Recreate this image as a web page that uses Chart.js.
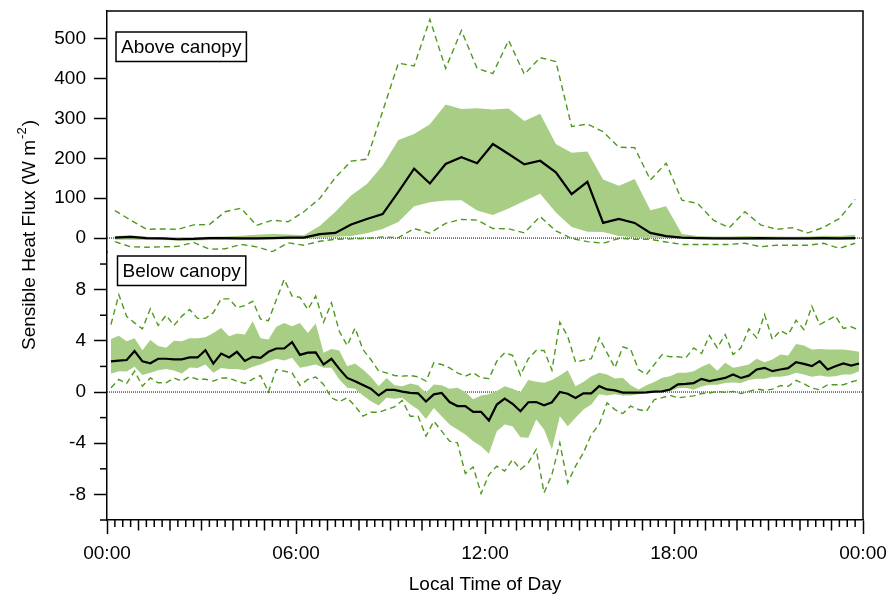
<!DOCTYPE html>
<html>
<head>
<meta charset="utf-8">
<script src="https://cdn.jsdelivr.net/npm/chart.js@4.4.1/dist/chart.umd.min.js"></script>
<style>
html,body{margin:0;padding:0;background:#fff;}
canvas{display:block;}
</style>
</head>
<body>
<canvas id="c" width="890" height="594"></canvas>
<script>
// ---------- DATA ----------
// time of day (decimal hours) for the half-hourly above-canopy series
const timesAbove = [0.25,0.75,1.25,1.75,2.25,2.75,3.25,3.75,4.25,4.75,5.25,5.75,6.25,6.75,7.25,7.75,8.25,8.75,9.25,9.75,10.25,10.75,11.25,11.75,12.25,12.75,13.25,13.75,14.25,14.75,15.25,15.75,16.25,16.75,17.25,17.75,18.25,18.75,19.25,19.75,20.25,20.75,21.25,21.75,22.25,22.75,23.25,23.75];
// time of day (decimal hours) for the 15-minute below-canopy series
const timesBelow = [0.125,0.375,0.625,0.875,1.125,1.375,1.625,1.875,2.125,2.375,2.625,2.875,3.125,3.375,3.625,3.875,4.125,4.375,4.625,4.875,5.125,5.375,5.625,5.875,6.125,6.375,6.625,6.875,7.125,7.375,7.625,7.875,8.125,8.375,8.625,8.875,9.125,9.375,9.625,9.875,10.125,10.375,10.625,10.875,11.125,11.375,11.625,11.875,12.125,12.375,12.625,12.875,13.125,13.375,13.625,13.875,14.125,14.375,14.625,14.875,15.125,15.375,15.625,15.875,16.125,16.375,16.625,16.875,17.125,17.375,17.625,17.875,18.125,18.375,18.625,18.875,19.125,19.375,19.625,19.875,20.125,20.375,20.625,20.875,21.125,21.375,21.625,21.875,22.125,22.375,22.625,22.875,23.125,23.375,23.625,23.875];

// Above canopy (W m-2)
const aboveMean   = [1,3,0,-1,-3,-2,0,0,-1,-1, 0,1,1,10,13,34,48,60,116,174, 137,186,203,188,236,211,185,194,165,110, 141,38,48,38,13,5,1,0,-1,-1, -1,0,-1,-1,-1,0,-1,0];
const aboveBandHi = [5,7,3,2,2,2,3,4,6,8, 10,9,7,30,66,107,136,182,246,261, 286,335,324,326,323,325,294,312,236,214, 217,147,131,148,70,80,10,5,4,4, 5,4,4,3,4,6,5,8];
const aboveBandLo = [-4,-4,-5,-5,-6,-6,-5,-5,-4,-4, -3,-3,-2,1,3,5,12,23,40,80, 90,94,95,69,58,74,93,111,64,28, 16,15,5,2,1,0,-1,-3,-3,-4, -4,-4,-4,-4,-4,-3,-5,-4];
const aboveDashHi = [69,45,22,23,22,33,34,66,75,32, 45,41,66,99,152,193,198,318,439,432, 549,426,521,426,413,496,411,453,443,280, 286,267,228,227,146,188,95,87,45,26, 66,33,22,26,13,27,49,97];
const aboveDashLo = [-9,-22,-23,-22,-21,-11,-28,-27,-16,-22, -34,-12,-18,-8,-3,-2,-1,3,1,24, 12,37,47,45,24,23,13,54,18,-1, -9,-13,-1,-3,-3,-10,-16,-16,-16,-16, -13,-22,-18,-18,-18,-13,-26,-13];

// Below canopy (W m-2)
const belowMean = [2.4,2.45,2.5,3.2,2.4,2.25,2.6,2.6,2.55,2.55, 2.7,2.7,3.27,2.22,3.0,2.7,3.14,2.43,2.75,2.67, 3.14,3.4,3.4,3.9,2.9,3.08,3.1,2.15,2.6,1.81, 1.1,0.85,0.55,0.26,-0.27,0.16,0.16,0.03,-0.07,-0.1, -0.74,-0.18,-0.07,-0.78,-1.1,-1.1,-1.55,-1.55,-2.23,-0.98, -0.51,-0.92,-1.5,-0.8,-0.78,-1.03,-0.8,0.0,-0.13,-0.47, -0.1,-0.1,0.46,0.2,0.13,-0.05,-0.05,-0.05,-0.03,0.03, 0.05,0.2,0.6,0.63,0.7,1.03,0.85,0.98,1.1,1.37, 1.1,1.28,1.76,1.89,1.63,1.76,1.86,2.33,2.2,2.02, 2.41,1.76,2.02,2.23,2.07,2.23];
const belowBandHi = [4.15,4.4,3.97,4.2,3.27,4.07,3.6,3.45,4.0,3.97, 4.2,4.2,4.28,4.62,5.0,4.36,4.57,4.5,5.53,4.2, 4.1,5.1,5.4,5.13,5.4,4.62,5.35,3.06,3.37,3.24, 2.02,2.22,1.76,1.19,0.46,1.09,0.52,0.46,0.67,0.52, -0.05,0.59,0.52,0.26,0.33,0.0,-0.57,-0.27,-0.18,0.07, 0.46,0.26,0.0,0.93,0.8,0.72,0.93,1.29,1.71,0.46, 0.78,1.24,1.5,1.37,1.06,1.11,0.52,0.2,0.52,0.78, 1.11,1.24,1.5,1.5,1.63,1.97,2.23,1.67,2.28,1.89, 2.02,2.15,2.59,2.33,2.54,2.93,2.85,3.76,3.63,3.32, 3.37,3.32,3.32,3.32,3.24,3.14];
const belowBandLo = [1.42,1.63,1.6,1.97,1.32,1.5,1.7,1.8,1.68,1.45, 1.92,1.87,2.15,1.5,1.87,1.8,1.8,1.7,1.97,2.15, 2.4,2.6,2.47,2.67,1.89,2.02,2.15,1.9,1.9,0.98, 0.33,0.26,-0.27,-0.72,-1.05,-0.44,-0.52,-0.44,-0.96,-1.37, -2.1,-1.24,-1.9,-2.54,-2.93,-3.32,-3.84,-4.23,-4.83,-3.06, -2.54,-2.67,-3.53,-3.58,-2.15,-2.93,-4.49,-1.89,-2.67,-2.02, -1.37,-0.98,-0.18,-0.27,-0.18,-0.27,-0.27,-0.18,-0.1,-0.05, 0.0,0.07,0.3,0.33,0.18,0.44,0.57,0.57,0.7,0.75, 0.7,0.93,1.03,1.03,1.19,1.19,1.29,1.5,1.37,1.19, 1.29,1.19,1.24,1.37,1.37,1.63];
const belowDashHi = [5.27,7.6,5.9,5.4,4.93,6.5,5.2,6.0,5.2,5.93, 6.45,5.75,5.75,6.2,7.28,7.28,6.58,6.75,7.1,5.7, 5.57,7.2,8.8,7.5,7.4,6.45,7.5,5.45,6.97,4.75, 3.63,5.0,3.32,2.54,1.63,1.5,1.29,1.24,1.29,1.19, 0.85,2.28,2.15,1.89,1.5,1.24,1.5,1.11,1.05,2.41, 3.06,2.86,1.31,2.6,3.24,3.24,1.71,5.45,4.36,2.33, 2.49,2.6,4.23,3.06,1.89,3.53,3.32,1.76,1.37,2.15, 2.93,2.75,2.75,2.67,3.45,3.01,4.41,3.45,4.49,2.93, 3.45,4.93,4.23,6.05,4.1,4.8,4.49,5.6,4.88,6.7, 5.27,5.6,5.94,4.97,5.1,4.84];
const belowDashLo = [0.33,0.98,0.67,1.63,0.46,1.1,0.72,0.72,1.1,0.85, 1.2,1.0,1.0,0.85,1.1,1.1,0.85,0.67,1.0,1.28, 0.0,1.76,1.63,1.5,0.52,0.98,1.17,0.59,-0.45,-0.75, -0.44,-1.1,-1.89,-1.58,-1.58,-1.37,-1.16,-0.66,-1.89,-1.89, -3.45,-2.28,-3.06,-3.84,-3.97,-6.37,-5.85,-7.93,-6.45,-5.79, -6.18,-5.27,-6.05,-5.53,-4.49,-7.88,-6.45,-3.97,-7.1,-5.79, -4.75,-3.32,-2.54,-0.85,-1.37,-1.68,-1.1,-1.37,-1.5,-0.59, -0.44,-0.26,-0.46,-0.38,-0.3,-0.12,-0.08,0.05,-0.03,0.05, -0.12,0.05,0.23,0.13,0.23,0.5,0.44,0.91,0.65,0.31, 0.18,0.57,0.57,0.57,0.78,0.96];

// Tick labels
const xTickLabels = ['00:00','06:00','12:00','18:00','00:00'];
const aboveTicks = [0,100,200,300,400,500];
const belowTicks = [-10,-8,-6,-4,-2,0,2,4,6,8,10];
const belowLabeled = [-8,-4,0,4,8];
const panelLabels = ['Above canopy','Below canopy'];
const yTitleMain = 'Sensible Heat Flux (W m';
const yTitleSup = '-2';
const yTitleEnd = ')';
const xTitle = 'Local Time of Day';

// ---------- STYLE ----------
const FONT = "'Liberation Sans', Arial, Helvetica, sans-serif";
const FS = 19;
const GREEN_FILL = 'rgb(168,206,133)';
const GREEN_DASH = 'rgb(78,154,30)';
Chart.defaults.font.family = FONT;
Chart.defaults.font.size = FS;
Chart.defaults.color = '#000';

function pts(t, v) { return t.map((x, i) => ({x: x, y: v[i]})); }

const xTickValues = [];
for (let m = 0; m <= 24 * 60; m += 15) xTickValues.push(m / 60);

function panelSets(prefix, axis, times, mean, bandHi, bandLo, dashHi, dashLo) {
  return [
    {label: prefix + ' zero', yAxisID: axis, data: [{x: 0, y: 0}, {x: 24, y: 0}],
     borderColor: '#000', borderWidth: 1, borderDash: [1, 1], pointRadius: 0, order: 6},
    {label: prefix + ' band low', yAxisID: axis, data: pts(times, bandLo),
     borderColor: 'rgba(0,0,0,0)', borderWidth: 0, pointRadius: 0, fill: false, order: 5},
    {label: prefix + ' band high', yAxisID: axis, data: pts(times, bandHi),
     borderColor: 'rgba(0,0,0,0)', borderWidth: 0, pointRadius: 0, fill: '-1',
     backgroundColor: GREEN_FILL, order: 4},
    {label: prefix + ' upper', yAxisID: axis, data: pts(times, dashHi),
     borderColor: GREEN_DASH, borderWidth: 1.4, borderDash: [6, 4], pointRadius: 0, order: 2},
    {label: prefix + ' lower', yAxisID: axis, data: pts(times, dashLo),
     borderColor: GREEN_DASH, borderWidth: 1.4, borderDash: [6, 4], pointRadius: 0, order: 2},
    {label: prefix + ' mean', yAxisID: axis, data: pts(times, mean),
     borderColor: '#000', borderWidth: 2.2, pointRadius: 0, order: 1}
  ];
}

const datasets = [].concat(
  panelSets('above', 'yAbove', timesAbove, aboveMean, aboveBandHi, aboveBandLo, aboveDashHi, aboveDashLo),
  panelSets('below', 'yBelow', timesBelow, belowMean, belowBandHi, belowBandLo, belowDashHi, belowDashLo)
);

// ---------- PLUGINS ----------
const extras = {
  id: 'extras',
  afterDraw(chart) {
    const ctx = chart.ctx;
    const ca = chart.chartArea;
    const x = chart.scales.x;
    const yb = chart.scales.yBelow;
    const ya = chart.scales.yAbove;
    ctx.save();
    ctx.strokeStyle = '#000';
    ctx.lineWidth = 1.5;
    // frame top & right
    ctx.beginPath();
    ctx.moveTo(ca.left, ca.top);
    ctx.lineTo(ca.right, ca.top);
    ctx.lineTo(ca.right, ca.bottom);
    ctx.stroke();
    // minor x ticks
    x.ticks.forEach(t => {
      const v = t.value;
      if (v % 6 === 0) return;
      const len = (v % 1 === 0) ? 10.5 : 7;
      const px = x.getPixelForValue(v);
      ctx.beginPath();
      ctx.moveTo(px, x.top);
      ctx.lineTo(px, x.top + len);
      ctx.stroke();
    });
    // minor y ticks (below panel)
    yb.ticks.forEach(t => {
      if (belowLabeled.indexOf(t.value) >= 0) return;
      const py = yb.getPixelForValue(t.value);
      ctx.beginPath();
      ctx.moveTo(yb.right, py);
      ctx.lineTo(yb.right - 7, py);
      ctx.stroke();
    });
    // panel labels
    ctx.font = FS + 'px ' + FONT;
    ctx.textBaseline = 'middle';
    ctx.textAlign = 'left';
    const boxes = [
      {text: panelLabels[0], left: ca.left + 9, top: ya.top + 21},
      {text: panelLabels[1], left: ca.left + 10.5, top: yb.top + 4}
    ];
    boxes.forEach(b => {
      const w = ctx.measureText(b.text).width + 10;
      const h = 29.5;
      ctx.fillStyle = '#fff';
      ctx.fillRect(b.left, b.top, w, h);
      ctx.lineWidth = 1.5;
      ctx.strokeRect(b.left, b.top, w, h);
      ctx.fillStyle = '#000';
      ctx.fillText(b.text, b.left + 5, b.top + h / 2 + 1);
    });
    // y axis title with superscript
    ctx.translate(30, 236);
    ctx.rotate(-Math.PI / 2);
    const fMain = FS + 'px ' + FONT;
    const fSup = '13px ' + FONT;
    ctx.font = fMain;
    const w1 = ctx.measureText(yTitleMain).width;
    const w3 = ctx.measureText(yTitleEnd).width;
    ctx.font = fSup;
    const w2 = ctx.measureText(yTitleSup).width;
    let sx = -(w1 + w2 + w3) / 2;
    ctx.fillStyle = '#000';
    ctx.font = fMain;
    ctx.fillText(yTitleMain, sx, 0);
    ctx.font = fSup;
    ctx.fillText(yTitleSup, sx + w1 + 1, -8);
    ctx.font = fMain;
    ctx.fillText(yTitleEnd, sx + w1 + w2 + 2, 0);
    ctx.restore();
  }
};

function fitY(s) { s.width = 107; s.paddingTop = 0; s.paddingBottom = 0; }
function fitX(s) { s.height = 74; s.paddingLeft = 0; s.paddingRight = 0; }

// ---------- CHART ----------
new Chart(document.getElementById('c'), {
  type: 'line',
  data: {datasets: datasets},
  plugins: [extras],
  options: {
    responsive: false,
    animation: false,
    devicePixelRatio: 1,
    layout: {padding: {top: 11, right: 27, bottom: 0, left: 0}},
    plugins: {legend: {display: false}, tooltip: {enabled: false}, filler: {propagate: false}},
    elements: {line: {tension: 0}},
    scales: {
      x: {
        type: 'linear', position: 'bottom', min: 0, max: 24,
        afterBuildTicks: s => { s.ticks = xTickValues.map(v => ({value: v})); },
        afterFit: fitX,
        ticks: {autoSkip: false, maxRotation: 0, minRotation: 0, padding: 8,
                callback: v => (v % 6 === 0 ? xTickLabels[v / 6] : '')},
        grid: {display: true, drawOnChartArea: false, tickLength: 14, tickWidth: 1.5,
               tickColor: c => (c.tick && c.tick.value % 6 === 0 ? '#000' : 'rgba(0,0,0,0)')},
        border: {display: true, color: '#000', width: 1.5},
        title: {display: true, text: xTitle, color: '#000', padding: {top: 0, bottom: -2}}
      },
      yBelow: {
        type: 'linear', position: 'left', stack: 'panels', stackWeight: 268,
        min: -10, max: 10.94,
        afterBuildTicks: s => { s.ticks = belowTicks.map(v => ({value: v})); },
        afterFit: fitY,
        ticks: {autoSkip: false, padding: 8, callback: v => (belowLabeled.indexOf(v) >= 0 ? String(v) : '')},
        grid: {display: true, drawOnChartArea: false, tickLength: 13, tickWidth: 1.5,
               tickColor: c => (c.tick && belowLabeled.indexOf(c.tick.value) >= 0 ? '#000' : 'rgba(0,0,0,0)')},
        border: {display: true, color: '#000', width: 1.5}
      },
      yAbove: {
        type: 'linear', position: 'left', stack: 'panels', stackWeight: 241,
        min: -35, max: 570,
        afterBuildTicks: s => { s.ticks = aboveTicks.map(v => ({value: v})); },
        afterFit: fitY,
        ticks: {autoSkip: false, padding: 8, callback: v => String(v)},
        grid: {display: true, drawOnChartArea: false, tickLength: 13, tickWidth: 1.5, tickColor: '#000'},
        border: {display: true, color: '#000', width: 1.5}
      }
    }
  }
});
</script>
</body>
</html>
